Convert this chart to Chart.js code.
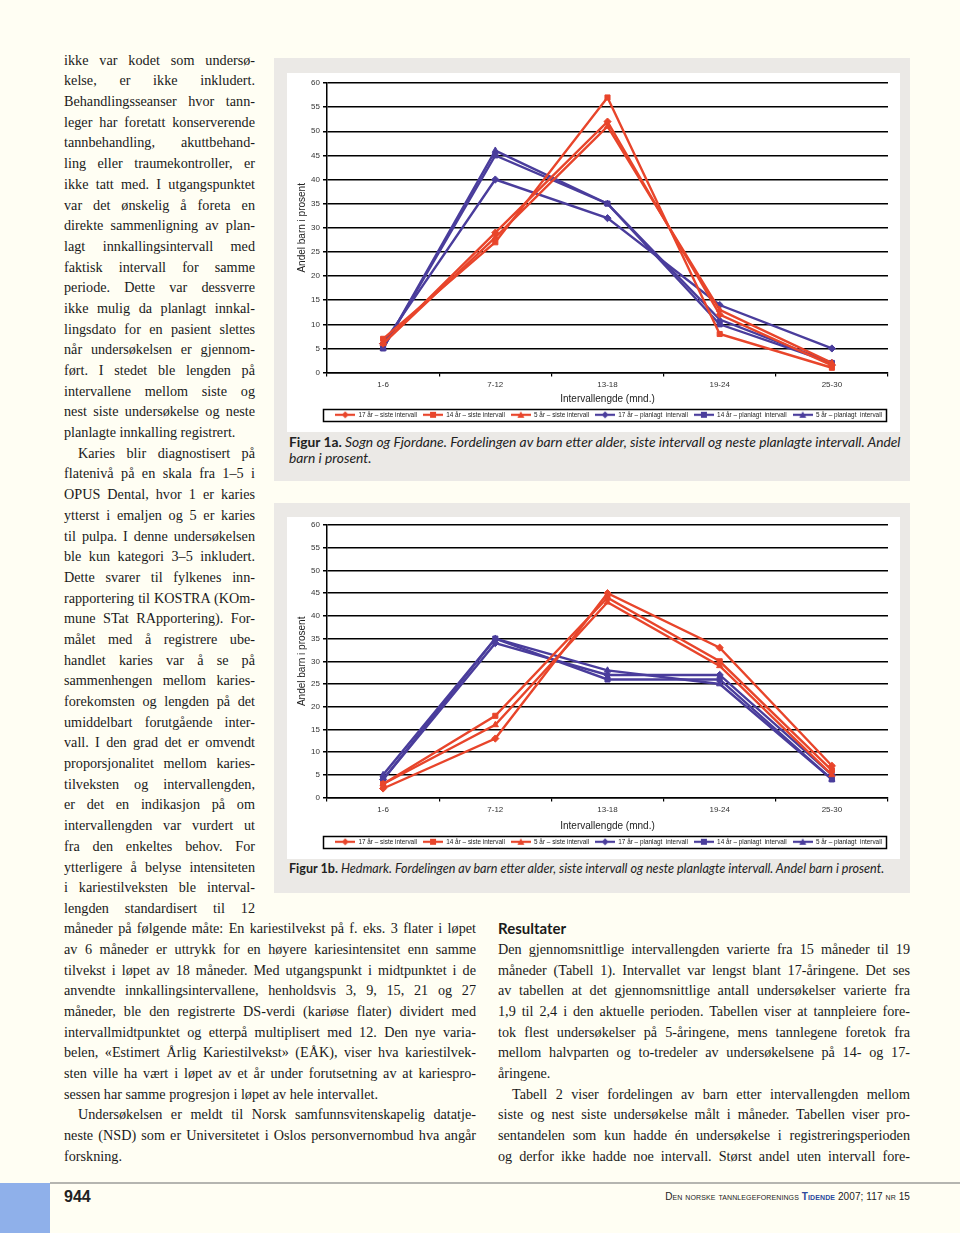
<!DOCTYPE html>
<html>
<head>
<meta charset="utf-8">
<script src="https://cdn.jsdelivr.net/npm/chart.js@4.4.1/dist/chart.umd.min.js"></script>
<style>
  html, body { margin: 0; padding: 0; }
  body { width: 960px; height: 1233px; background: #fffef3; position: relative; overflow: hidden;
         font-family: "Liberation Serif", "DejaVu Serif", serif; color: #1a1a1a; }
  .col { position: absolute; font-size: 14.2px; line-height: 20.68px; }
  .col div { white-space: nowrap; text-align: justify; text-align-last: justify; }
  .col div.l { text-align-last: left; }
  .col div.i { padding-left: 14px; }
  .box { position: absolute; background: #ebe9e6; left: 274px; width: 636px; }
  .white { position: absolute; background: #ffffff; left: 13px; width: 613px; }
  .cap { position: absolute; left: 15px; width: 614px; font-family: Lato, "Open Sans", sans-serif;
         font-size: 12.6px; line-height: 16px; font-style: italic; color: #222; }
  .cap b { font-style: normal; }
  canvas { position: absolute; }
  h3 { position: absolute; margin: 0; font-family: Lato, "Open Sans", sans-serif; font-size: 15px;
       font-weight: bold; left: 498px; top: 919px; color: #1a1a1a; }
  .foot { position: absolute; font-family: "Liberation Sans Narrow", "Liberation Sans", sans-serif; }
</style>
</head>
<body>

<div class="col" style="left:64px; top:49.7px; width:191px;">
<div>ikke var kodet som undersø-</div>
<div>kelse, er ikke inkludert.</div>
<div>Behandlingsseanser hvor tann-</div>
<div>leger har foretatt konserverende</div>
<div>tannbehandling, akuttbehand-</div>
<div>ling eller traumekontroller, er</div>
<div>ikke tatt med. I utgangspunktet</div>
<div>var det ønskelig å foreta en</div>
<div>direkte sammenligning av plan-</div>
<div>lagt innkallingsintervall med</div>
<div>faktisk intervall for samme</div>
<div>periode. Dette var dessverre</div>
<div>ikke mulig da planlagt innkal-</div>
<div>lingsdato for en pasient slettes</div>
<div>når undersøkelsen er gjennom-</div>
<div>ført. I stedet ble lengden på</div>
<div>intervallene mellom siste og</div>
<div>nest siste undersøkelse og neste</div>
<div class="l">planlagte innkalling registrert.</div>
<div class="i">Karies blir diagnostisert på</div>
<div>flatenivå på en skala fra 1–5 i</div>
<div>OPUS Dental, hvor 1 er karies</div>
<div>ytterst i emaljen og 5 er karies</div>
<div>til pulpa. I denne undersøkelsen</div>
<div>ble kun kategori 3–5 inkludert.</div>
<div>Dette svarer til fylkenes inn-</div>
<div>rapportering til KOSTRA (KOm-</div>
<div>mune STat RApportering). For-</div>
<div>målet med å registrere ube-</div>
<div>handlet karies var å se på</div>
<div>sammenhengen mellom karies-</div>
<div>forekomsten og lengden på det</div>
<div>umiddelbart forutgående inter-</div>
<div>vall. I den grad det er omvendt</div>
<div>proporsjonalitet mellom karies-</div>
<div>tilveksten og intervallengden,</div>
<div>er det en indikasjon på om</div>
<div>intervallengden var vurdert ut</div>
<div>fra den enkeltes behov. For</div>
<div>ytterligere å belyse intensiteten</div>
<div>i kariestilveksten ble interval-</div>
<div>lengden standardisert til 12</div>
</div>

<div class="col" style="left:64px; top:918.3px; width:412px;">
<div>måneder på følgende måte: En kariestilvekst på f. eks. 3 flater i løpet</div>
<div>av 6 måneder er uttrykk for en høyere kariesintensitet enn samme</div>
<div>tilvekst i løpet av 18 måneder. Med utgangspunkt i midtpunktet i de</div>
<div>anvendte innkallingsintervallene, henholdsvis 3, 9, 15, 21 og 27</div>
<div>måneder, ble den registrerte DS-verdi (kariøse flater) dividert med</div>
<div>intervallmidtpunktet og etterpå multiplisert med 12. Den nye varia-</div>
<div>belen, «Estimert Årlig Kariestilvekst» (EÅK), viser hva kariestilvek-</div>
<div>sten ville ha vært i løpet av et år under forutsetning av at kariespro-</div>
<div class="l">sessen har samme progresjon i løpet av hele intervallet.</div>
<div class="i">Undersøkelsen er meldt til Norsk samfunnsvitenskapelig datatje-</div>
<div>neste (NSD) som er Universitetet i Oslos personvernombud hva angår</div>
<div class="l">forskning.</div>
</div>

<h3>Resultater</h3>
<div class="col" style="left:498px; top:938.9px; width:412px;">
<div>Den gjennomsnittlige intervallengden varierte fra 15 måneder til 19</div>
<div>måneder (Tabell 1). Intervallet var lengst blant 17-åringene. Det ses</div>
<div>av tabellen at det gjennomsnittlige antall undersøkelser varierte fra</div>
<div>1,9 til 2,4 i den aktuelle perioden. Tabellen viser at tannpleiere fore-</div>
<div>tok flest undersøkelser på 5-åringene, mens tannlegene foretok fra</div>
<div>mellom halvparten og to-tredeler av undersøkelsene på 14- og 17-</div>
<div class="l">åringene.</div>
<div class="i">Tabell 2 viser fordelingen av barn etter intervallengden mellom</div>
<div>siste og nest siste undersøkelse målt i måneder. Tabellen viser pro-</div>
<div>sentandelen som kun hadde én undersøkelse i registreringsperioden</div>
<div>og derfor ikke hadde noe intervall. Størst andel uten intervall fore-</div>
</div>

<div class="box" style="top:58px; height:423px;">
  <div class="white" style="top:15px; height:359px;"></div>
  <div class="cap" style="top:376px; font-size:13.8px;"><b>Figur 1a.</b> Sogn og Fjordane. Fordelingen av barn etter alder, siste intervall og neste planlagte intervall. Andel barn i prosent.</div>
</div>
<canvas id="fig1a" width="624" height="360" style="left:296px; top:73px; width:624px; height:360px;"></canvas>

<div class="box" style="top:503px; height:390px;">
  <div class="white" style="top:14px; height:342px;"></div>
  <div class="cap" style="top:358px;"><b>Figur 1b.</b> Hedmark. Fordelingen av barn etter alder, siste intervall og neste planlagte intervall. Andel barn i prosent.</div>
</div>
<canvas id="fig1b" width="624" height="342" style="left:296px; top:517px; width:624px; height:342px;"></canvas>

<div style="position:absolute; left:0; top:1183px; width:50px; height:50px; background:#8fb0ea;"></div>
<div style="position:absolute; left:50px; top:1182px; width:910px; height:2px; background:#b5b5b0;"></div>
<div class="foot" style="left:64px; top:1188px; font-size:16px; font-weight:bold; color:#222;">944</div>
<div class="foot" style="right:50px; top:1191px; font-size:10px; color:#222; font-variant:small-caps; letter-spacing:0.1px;">Den norske tannlegeforenings <span style="color:#2d4a9c; font-weight:bold;">Tidende</span> 2007; 117 nr 15</div>

<script>
// categories (interval length, months)
const categories = ['1-6', '7-12', '13-18', '19-24', '25-30'];
const yTicks = [0, 5, 10, 15, 20, 25, 30, 35, 40, 45, 50, 55, 60];

// Figur 1a - Sogn og Fjordane
const sf17siste = [6, 29, 52, 12, 1.5];
const sf14siste = [7, 27, 57, 8, 1];
const sf5siste  = [6, 28, 51, 13, 2];
const sf17plan  = [6, 40, 32, 14, 5];
const sf14plan  = [5, 45, 35, 10, 2];
const sf5plan   = [5, 46, 35, 11, 2];

// Figur 1b - Hedmark
const he17siste = [2, 13, 45, 33, 7];
const he14siste = [3, 18, 44, 30, 6];
const he5siste  = [3, 16, 43, 29, 5];
const he17plan  = [4, 34, 27, 27, 5];
const he14plan  = [4, 35, 26, 26, 4];
const he5plan   = [5, 35, 28, 25, 4];

const seriesNames = ['17 år – siste intervall', '14 år – siste intervall', '5 år – siste intervall',
                     '17 år – planlagt  intervall', '14 år – planlagt  intervall', '5 år – planlagt  intervall'];

const RED = '#e8452b';
const BLUE = '#4a3d9c';
const styles = ['rectRot', 'rect', 'triangle', 'rectRot', 'rect', 'triangle'];
const colors = [RED, RED, RED, BLUE, BLUE, BLUE];

// small line+marker icons for the legend
function legendIcon(style, color) {
  const c = document.createElement('canvas');
  c.width = 20; c.height = 8;
  const g = c.getContext('2d');
  g.strokeStyle = color; g.fillStyle = color; g.lineWidth = 2.2;
  g.beginPath(); g.moveTo(0, 4); g.lineTo(20, 4); g.stroke();
  g.beginPath();
  if (style === 'rect') g.rect(7, 1, 6, 6);
  else if (style === 'rectRot') { g.moveTo(10, 0.5); g.lineTo(13.5, 4); g.lineTo(10, 7.5); g.lineTo(6.5, 4); g.closePath(); }
  else { g.moveTo(10, 0.5); g.lineTo(13.5, 7); g.lineTo(6.5, 7); g.closePath(); }
  g.fill();
  return c;
}
const icons = styles.map((s, i) => legendIcon(s, colors[i]));

// box round the legend
const legendFrame = {
  id: 'legendFrame',
  afterDraw(chart) {
    const lg = chart.legend;
    if (!lg || !lg.legendHitBoxes.length) return;
    const hb = lg.legendHitBoxes;
    const x0 = Math.min(...hb.map(h => h.left)) - 12;
    const x1 = Math.max(...hb.map(h => h.left + h.width)) + 4;
    const y0 = hb[0].top - 3, y1 = hb[0].top + hb[0].height + 3;
    const ctx = chart.ctx;
    ctx.save();
    ctx.strokeStyle = '#000'; ctx.lineWidth = 1.5;
    ctx.strokeRect(Math.round(x0) + 0.5, Math.round(y0) + 0.5, Math.round(x1 - x0), Math.round(y1 - y0));
    ctx.restore();
  }
};

function makeChart(id, series, xHeight, pad) {
  const datasets = series.map((d, i) => ({
    label: seriesNames[i],
    data: d,
    borderColor: colors[i],
    backgroundColor: colors[i],
    borderWidth: 2.4,
    pointStyle: styles[i],
    pointRadius: 3.6,
    pointBorderWidth: 1,
    tension: 0
  }));
  return new Chart(document.getElementById(id), {
    type: 'line',
    data: { labels: categories, datasets: datasets },
    options: {
      responsive: false,
      animation: false,
      devicePixelRatio: 1,
      layout: { padding: pad },
      scales: {
        x: {
          offset: true,
          grid: { offset: true, drawOnChartArea: false, color: '#000', lineWidth: 1.2, tickLength: 4 },
          border: { color: '#000', width: 1.5 },
          ticks: { color: '#333', font: { family: 'Liberation Sans Narrow, Liberation Sans, sans-serif', size: 8 }, padding: 3, maxRotation: 0 },
          title: { display: true, text: 'Intervallengde (mnd.)', color: '#222',
                   font: { family: 'Liberation Sans Narrow, Liberation Sans, sans-serif', size: 10 }, padding: { top: 0, bottom: 0 } },
          afterFit: s => { s.height = xHeight; }
        },
        y: {
          min: 0, max: 60,
          afterBuildTicks: s => { s.ticks = yTicks.map(v => ({ value: v })); },
          grid: { color: '#000', lineWidth: 1.5, tickLength: 4 },
          border: { color: '#000', width: 1.5 },
          ticks: { color: '#333', font: { family: 'Liberation Sans Narrow, Liberation Sans, sans-serif', size: 8 }, padding: 3 },
          title: { display: true, text: 'Andel barn i prosent', color: '#222',
                   font: { family: 'Liberation Sans Narrow, Liberation Sans, sans-serif', size: 10 }, padding: 0 },
          afterFit: s => { s.width = 31; }
        }
      },
      plugins: {
        legend: {
          position: 'bottom',
          align: 'end',
          labels: {
            usePointStyle: true,
            pointStyleWidth: 20,
            boxHeight: 8,
            padding: 6,
            color: '#222',
            font: { family: 'Liberation Sans Narrow, Liberation Sans, sans-serif', size: 6.4 },
            generateLabels: chart => {
              const items = Chart.defaults.plugins.legend.labels.generateLabels(chart);
              items.forEach((it, i) => { it.pointStyle = icons[i]; });
              return items;
            }
          }
        },
        tooltip: { enabled: false }
      }
    },
    plugins: [legendFrame]
  });
}

makeChart('fig1a', [sf17siste, sf14siste, sf5siste, sf17plan, sf14plan, sf5plan], 33,
          { left: 0, right: 32, top: 10, bottom: 5 });
makeChart('fig1b', [he17siste, he14siste, he5siste, he17plan, he14plan, he5plan], 35,
          { left: 0, right: 32, top: 8, bottom: 4 });
</script>
</body>
</html>
